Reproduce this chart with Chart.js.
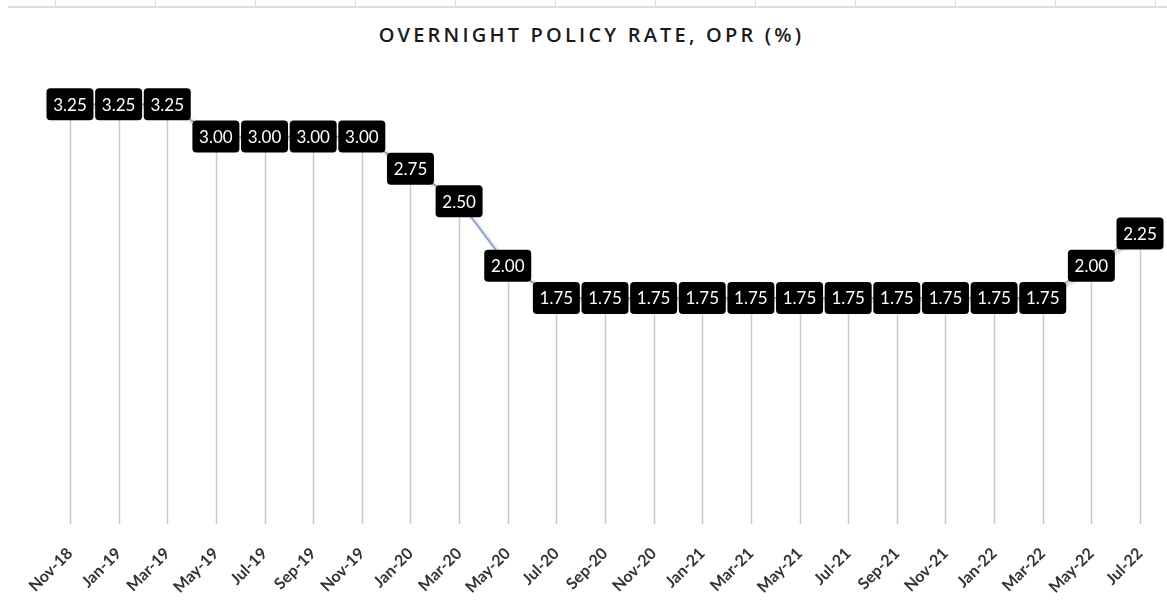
<!DOCTYPE html>
<html>
<head>
<meta charset="utf-8">
<script src="https://cdn.jsdelivr.net/npm/chart.js@4/dist/chart.umd.min.js"></script>
<style>
  html, body { margin: 0; padding: 0; background: #fff; }
  #wrap { position: relative; width: 1167px; height: 609px; }
  #topline { position: absolute; left: 8px; right: 0; top: 0; height: 6px;
    border-bottom: 2px solid #dcdcdc;
    background: repeating-linear-gradient(to right, transparent 0, transparent 47px, #dcdcdc 47px, #dcdcdc 48px, transparent 48px, transparent 100px); }
  #title { position: absolute; left: 16px; right: 0; top: 21px; text-align: center;
    font: 600 20px "Open Sans", sans-serif; letter-spacing: 3.2px; color: #1a1a1a; }
  canvas { position: absolute; left: 0; top: 0; }
</style>
</head>
<body>
<div id="wrap">
  <div id="topline"></div>
  <div id="title">OVERNIGHT POLICY RATE, OPR (%)</div>
  <canvas id="oprChart" width="1167" height="609"></canvas>
</div>
<script>
// データ
const months = ['Nov-18', 'Jan-19', 'Mar-19', 'May-19', 'Jul-19', 'Sep-19', 'Nov-19', 'Jan-20',
  'Mar-20', 'May-20', 'Jul-20', 'Sep-20', 'Nov-20', 'Jan-21', 'Mar-21', 'May-21', 'Jul-21',
  'Sep-21', 'Nov-21', 'Jan-22', 'Mar-22', 'May-22', 'Jul-22'];
const oprValues = [3.25, 3.25, 3.25, 3.00, 3.00, 3.00, 3.00, 2.75, 2.50, 2.00, 1.75, 1.75,
  1.75, 1.75, 1.75, 1.75, 1.75, 1.75, 1.75, 1.75, 1.75, 2.00, 2.25];

// ドロップライン（点から軸まで）
const dropLines = {
  id: 'dropLines',
  beforeDatasetsDraw(chart) {
    const ctx = chart.ctx;
    const meta = chart.getDatasetMeta(0);
    const bottom = chart.chartArea.bottom;
    ctx.save();
    ctx.strokeStyle = '#c9c9c9';
    ctx.lineWidth = 1.5;
    meta.data.forEach(pt => {
      ctx.beginPath();
      ctx.moveTo(Math.round(pt.x) + 0.5, pt.y);
      ctx.lineTo(Math.round(pt.x) + 0.5, bottom);
      ctx.stroke();
    });
    ctx.restore();
  }
};

// 線の影
const lineShadow = {
  id: 'lineShadow',
  beforeDatasetDraw(chart) {
    const ctx = chart.ctx;
    ctx.save();
    ctx.shadowColor = 'rgba(0,0,0,0.35)';
    ctx.shadowBlur = 3;
    ctx.shadowOffsetX = 2;
    ctx.shadowOffsetY = 2;
  },
  afterDatasetDraw(chart) {
    chart.ctx.restore();
  }
};

// データラベル（黒い角丸ボックス）
const boxLabels = {
  id: 'boxLabels',
  afterDatasetsDraw(chart) {
    const ctx = chart.ctx;
    const meta = chart.getDatasetMeta(0);
    const w = 47, h = 32, r = 4;
    ctx.save();
    ctx.font = '17px Lato, "Open Sans", sans-serif';
    ctx.textAlign = 'center';
    ctx.textBaseline = 'middle';
    meta.data.forEach((pt, i) => {
      const x = pt.x, y = pt.y;
      ctx.fillStyle = '#000';
      ctx.beginPath();
      ctx.roundRect(x - w / 2, y - h / 2, w, h, r);
      ctx.fill();
      ctx.fillStyle = '#fff';
      ctx.fillText(oprValues[i].toFixed(2), x, y + 1);
    });
    ctx.restore();
  }
};

const ctx = document.getElementById('oprChart').getContext('2d');
new Chart(ctx, {
  type: 'line',
  data: {
    labels: months,
    datasets: [{
      data: oprValues,
      borderColor: '#7b9bd6',
      borderWidth: 1.5,
      pointRadius: 0,
      tension: 0,
      fill: false
    }]
  },
  options: {
    responsive: false,
    animation: false,
    layout: { padding: { left: 70, right: 27, top: 72, bottom: 0 } },
    plugins: { legend: { display: false }, tooltip: { enabled: false }, title: { display: false } },
    scales: {
      x: {
        offset: false,
        grid: { display: false },
        border: { display: false },
        ticks: {
          autoSkip: false,
          maxRotation: 45,
          minRotation: 45,
          padding: 12,
          color: '#333333',
          font: { family: 'Lato, "Open Sans", sans-serif', size: 16, weight: 'bold' }
        }
      },
      y: {
        display: false,
        min: 0,
        max: 3.5
      }
    }
  },
  plugins: [dropLines, lineShadow, boxLabels]
});
</script>
</body>
</html>
